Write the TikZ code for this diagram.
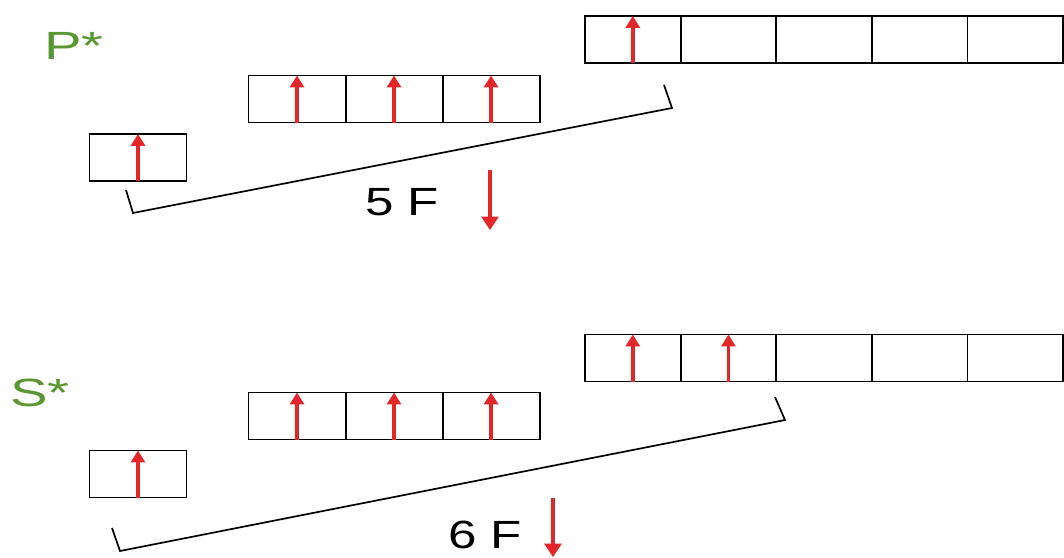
\documentclass[tikz,border=0pt]{standalone}
\usepackage{fontspec}
\setmainfont{Liberation Sans}
\usetikzlibrary{positioning,arrows.meta}
\definecolor{zelena}{RGB}{90,150,50}
\definecolor{crvena}{RGB}{226,38,42}
\tikzset{
  celija/.style={draw=black, line width=1.4pt, minimum width=2.425cm,
    minimum height=1.175cm, inner sep=0pt, outer sep=0pt},
  celija5/.style={celija, minimum width=2.39cm},
  spin/.style={draw=crvena, line width=2.6pt,
    -{Triangle[width=10pt,length=8.5pt]}},
  spindole/.style={draw=crvena, line width=2.2pt,
    -{Triangle[width=12pt,length=9.5pt]}},
  zagrada/.style={draw=black, line width=1.2pt, line join=miter},
  oznaka/.style={font=\fontsize{28}{32}\selectfont, xscale=1.3},
  stanje/.style={oznaka, text=zelena, xscale=1.1},
}
\begin{document}
\begin{tikzpicture}[x=0.025cm, y=-0.025cm]
    \useasboundingbox (0,0) rectangle (1064,558);
    % gornje stanje P*
    \node [stanje] (pz) at (74,46) {P*};
    \node [celija] (p1) at (138,157.5) {};
    \node [celija] (p2a) at (297,99) {};
    \node [celija, right=0pt of p2a] (p2b) {};
    \node [celija, right=0pt of p2b] (p2c) {};
    \node [celija5] (p3a) at (632.8,39.5) {};
    \node [celija5, right=0pt of p3a] (p3b) {};
    \node [celija5, right=0pt of p3b] (p3c) {};
    \node [celija5, right=0pt of p3c] (p3d) {};
    \node [celija5, right=0pt of p3d] (p3e) {};
    \foreach \c in {p1,p2a,p2b,p2c,p3a}{
        \draw [spin] (\c.south) -- (\c.north);
    }
    % zagrada i oznaka 5 F
    \coordinate (zp1) at (126,190);
    \coordinate (zp2) at (133,213);
    \coordinate (zp3) at (672,108);
    \coordinate (zp4) at (664,85);
    \draw [zagrada] (zp1) -- (zp2) -- (zp3) -- (zp4);
    \node [oznaka] (f5) at (402,202) {5 F};
    \coordinate (d5a) at (490,170);
    \coordinate (d5b) at (490,230);
    \draw [spindole] (d5a) -- (d5b);
    % donje stanje S*
    \node [stanje] (sz) at (40,393) {S*};
    \node [celija] (s1) at (138,474) {};
    \node [celija] (s2a) at (297,416) {};
    \node [celija, right=0pt of s2a] (s2b) {};
    \node [celija, right=0pt of s2b] (s2c) {};
    \node [celija5] (s3a) at (632.8,358) {};
    \node [celija5, right=0pt of s3a] (s3b) {};
    \node [celija5, right=0pt of s3b] (s3c) {};
    \node [celija5, right=0pt of s3c] (s3d) {};
    \node [celija5, right=0pt of s3d] (s3e) {};
    \foreach \c in {s1,s2a,s2b,s2c,s3a,s3b}{
        \draw [spin] (\c.south) -- (\c.north);
    }
    % zagrada i oznaka 6 F
    \coordinate (zs1) at (112,528);
    \coordinate (zs2) at (120,551);
    \coordinate (zs3) at (785,420);
    \coordinate (zs4) at (775,397);
    \draw [zagrada] (zs1) -- (zs2) -- (zs3) -- (zs4);
    \node [oznaka] (f6) at (485,535) {6 F};
    \coordinate (d6a) at (553,498);
    \coordinate (d6b) at (553,557);
    \draw [spindole] (d6a) -- (d6b);
\end{tikzpicture}
\end{document}
